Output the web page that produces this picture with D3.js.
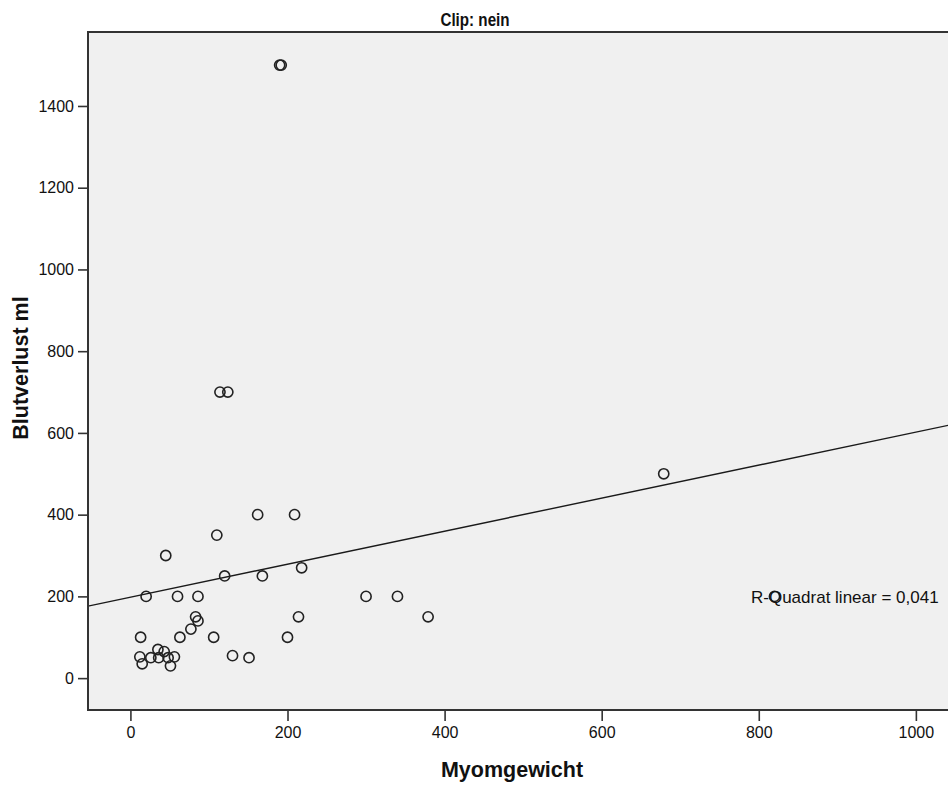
<!DOCTYPE html>
<html>
<head>
<meta charset="utf-8">
<script src="https://cdn.jsdelivr.net/npm/d3@7"></script>
<style>
  html, body { margin: 0; padding: 0; background: #ffffff; }
  svg { display: block; font-family: "Liberation Sans", Arial, sans-serif; }
</style>
</head>
<body>
<svg id="chart" width="948" height="787"></svg>
<script>
// Myomgewicht (g) against Blutverlust (ml), subgroup "Clip: nein"
const myomgewicht = [190, 192, 114, 124, 679, 820, 45, 110, 162, 209, 120, 168, 218,
  20, 60, 86, 300, 340, 379, 214, 83, 86, 77, 13, 63, 106, 200, 130, 151,
  12, 15, 26, 35, 43, 36, 48, 56, 51];
const blutverlust = [1500, 1500, 700, 700, 500, 200, 300, 350, 400, 400, 250, 250, 270,
  200, 200, 200, 200, 200, 150, 150, 150, 140, 120, 100, 100, 100, 100, 55, 50,
  52, 35, 50, 70, 65, 50, 50, 52, 30];

// Linear fit reported for the subgroup
const fitIntercept = 198;
const fitSlope = 0.404;
const rSquared = 0.041;

const xTicks = [0, 200, 400, 600, 800, 1000];
const yTicks = [0, 200, 400, 600, 800, 1000, 1200, 1400];
const xDomain = [-54, 1046];
const yDomain = [-78, 1581];

const titleText = "Clip: nein";
const xTitle = "Myomgewicht";
const yTitle = "Blutverlust ml";

const frame = { left: 88, top: 32, right: 952, bottom: 710 };

const svg = d3.select("#chart");

const x = d3.scaleLinear().domain(xDomain).range([frame.left, frame.right]);
const y = d3.scaleLinear().domain(yDomain).range([frame.bottom, frame.top]);

// plot area
svg.append("rect")
  .attr("x", frame.left).attr("y", frame.top)
  .attr("width", frame.right - frame.left)
  .attr("height", frame.bottom - frame.top)
  .attr("fill", "#f0f0f0");

svg.append("clipPath").attr("id", "plotClip")
  .append("rect")
  .attr("x", frame.left).attr("y", frame.top)
  .attr("width", frame.right - frame.left)
  .attr("height", frame.bottom - frame.top);

// axes
const xAxis = d3.axisBottom(x).tickValues(xTicks).tickSize(11).tickPadding(6)
  .tickFormat(d3.format("d"));
const yAxis = d3.axisLeft(y).tickValues(yTicks).tickSize(10).tickPadding(4)
  .tickFormat(d3.format("d"));

const gx = svg.append("g").attr("transform", `translate(0,${frame.bottom})`).call(xAxis);
const gy = svg.append("g").attr("transform", `translate(${frame.left},0)`).call(yAxis);
[gx, gy].forEach(g => {
  g.select(".domain").remove();
  g.selectAll(".tick line").attr("stroke", "#333").attr("stroke-width", 1.6);
  g.selectAll(".tick text").attr("fill", "#111").attr("font-size", 16)
    .attr("font-family", "'Liberation Sans', Arial, sans-serif");
});

// regression line
const plot = svg.append("g").attr("clip-path", "url(#plotClip)");
plot.append("line")
  .attr("x1", x(xDomain[0])).attr("y1", y(fitIntercept + fitSlope * xDomain[0]))
  .attr("x2", x(xDomain[1])).attr("y2", y(fitIntercept + fitSlope * xDomain[1]))
  .attr("stroke", "#1a1a1a").attr("stroke-width", 1.4);

// observations
const points = myomgewicht.map((v, i) => ({ x: v, y: blutverlust[i] }));
plot.selectAll("circle.obs").data(points).join("circle")
  .attr("class", "obs")
  .attr("cx", d => x(d.x)).attr("cy", d => y(d.y))
  .attr("r", 5.1)
  .attr("fill", "none")
  .attr("stroke", "#222").attr("stroke-width", 1.6);

// frame border (left, top, bottom)
svg.append("path")
  .attr("d", `M${frame.right},${frame.top}H${frame.left}V${frame.bottom}H${frame.right}`)
  .attr("fill", "none").attr("stroke", "#333").attr("stroke-width", 2);

// fit statistic
svg.append("text")
  .attr("x", 751).attr("y", 603)
  .attr("font-size", 17).attr("fill", "#111")
  .text("R-Quadrat linear = " + d3.format(".3f")(rSquared).replace(".", ","));

// titles
svg.append("text")
  .attr("transform", "translate(475,26) scale(0.8,1)").attr("text-anchor", "middle")
  .attr("font-size", 19).attr("font-weight", "bold").attr("fill", "#111")
  .text(titleText);

svg.append("text")
  .attr("x", 512).attr("y", 777).attr("text-anchor", "middle")
  .attr("font-size", 21.5).attr("font-weight", "bold").attr("fill", "#111")
  .text(xTitle);

svg.append("text")
  .attr("transform", "translate(28,368) rotate(-90)").attr("text-anchor", "middle")
  .attr("font-size", 21.5).attr("font-weight", "bold").attr("fill", "#111")
  .text(yTitle);
</script>
</body>
</html>
